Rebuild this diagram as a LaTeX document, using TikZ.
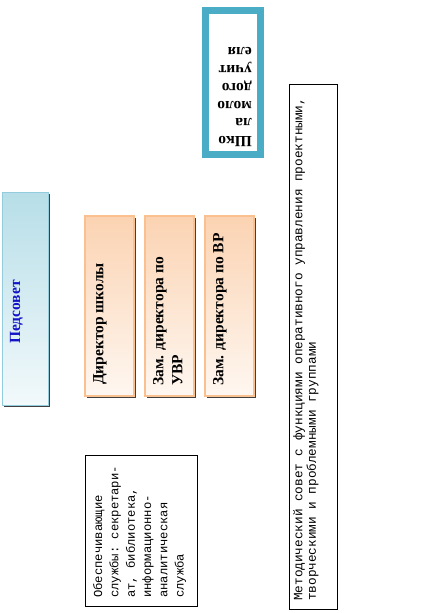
\documentclass[tikz,border=0pt]{standalone}
\usepackage{fontspec}
\setmainfont{Liberation Serif}
\setmonofont{Liberation Mono}
\usetikzlibrary{positioning,calc}
\definecolor{frameteal}{RGB}{75,172,198}
\definecolor{pedtop}{RGB}{183,222,232}
\definecolor{pedbot}{RGB}{242,249,251}
\definecolor{pedline}{RGB}{147,205,221}
\definecolor{pedblue}{RGB}{20,20,200}
\definecolor{dirtop}{RGB}{251,211,178}
\definecolor{dirbot}{RGB}{254,247,241}
\definecolor{dirline}{RGB}{250,192,144}

\begin{document}
\begin{tikzpicture}[
  x=1pt, y=-1pt,
  box/.style    ={draw, inner sep=0pt, outer sep=0pt},
  shd/.style    ={preaction={draw=none, fill=black!75,
                   transform canvas={xshift=2pt, yshift=-2pt}}},
  pedbox/.style ={box, shd, draw=pedline, line width=1pt,
                  top color=pedtop, bottom color=pedbot,
                  minimum width=46pt, minimum height=213pt},
  dirbox/.style ={box, shd, draw=dirline, line width=1.2pt,
                  top color=dirtop, bottom color=dirbot,
                  minimum width=49pt, minimum height=180pt},
  plainbox/.style={box, line width=0.8pt, fill=white},
  youngbox/.style={box, draw=frameteal, line width=7pt, fill=white,
                  minimum width=55pt, minimum height=144pt},
  vtext/.style  ={rotate=90, anchor=north west, inner sep=0pt, align=left},
  boldfont/.style={font=\fontsize{15.5}{19}\selectfont\bfseries},
  monofont/.style={font=\fontsize{12.2}{16.3}\selectfont\ttfamily}]

\useasboundingbox (0,0) rectangle (428,613);

% Школа молодого учителя
\node[youngbox] (young) at (233,82.5) {};
\node[rotate=180, anchor=north west, inner sep=0pt, align=left,
      font=\fontsize{15.5}{17.8}\selectfont\bfseries] (youngt) at (252,147)
  {Шко\\ла\\моло\\дого\\учит\\еля};

% Педсовет
\node[pedbox] (ped) at (25,298.5) {};
\node[vtext, boldfont, text=pedblue, anchor=center] (pedt) at (16.5,312) {Педсовет};

% администрация
\node[dirbox] (dir) at (109.5,306) {};
\node[dirbox, right=11pt of dir] (uvr) {};
\node[dirbox, right=11pt of uvr] (vr) {};
\node[vtext, boldfont] (dirt) at ($(dir.south west)+(8,-11)$) {Директор школы};
\node[vtext, boldfont] (uvrt) at ($(uvr.south west)+(8,-10)$)
  {Зам. директора по\\УВР};
\node[vtext, boldfont] (vrt) at ($(vr.south west)+(8,-10)$)
  {Зам. директора по ВР};

% службы
\node[plainbox, minimum width=112pt, minimum height=151pt] (serv) at (141,530.5) {};
\node[vtext, monofont] (servt) at ($(serv.south west)+(8,-8)$)
  {Обеспечивающие\\службы: секретари-\\ат, библиотека,\\информационно-\\аналитическая\\служба};

% методический совет
\node[plainbox, minimum width=48pt, minimum height=525pt] (met) at (313,346.5) {};
\node[vtext, font=\fontsize{12.7}{13.5}\selectfont\ttfamily] (mett)
  at ($(met.south west)+(4,-8)$)
  {Методический совет с функциями оперативного управления проектными,\\
   творческими и проблемными группами};
\end{tikzpicture}
\end{document}
